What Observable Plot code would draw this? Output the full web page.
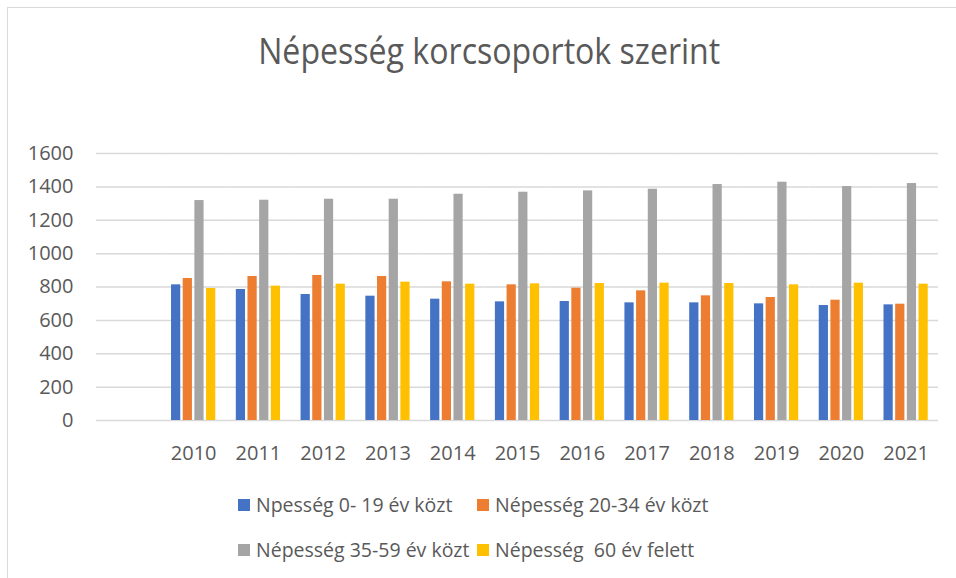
<!DOCTYPE html>
<html>
<head>
<meta charset="utf-8">
<script src="https://cdn.jsdelivr.net/npm/d3@7"></script>
<script src="https://cdn.jsdelivr.net/npm/@observablehq/plot@0.6"></script>
<style>
  html, body { margin: 0; padding: 0; background: #fff; }
  #wrap { position: relative; width: 956px; height: 578px; overflow: hidden; font-family: "Open Sans", sans-serif; color: #595959; }
  #frame { position: absolute; left: 7px; top: 7px; width: 1000px; height: 700px; border: 1.5px solid #d9d9d9; box-sizing: border-box; }
  #title { position: absolute; top: 26px; left: 11px; width: 956px; text-align: center; white-space: nowrap; }
  #title span { display: inline-block; font-size: 36px; font-weight: 400; transform-origin: center; }
  #chart { position: absolute; left: 0; top: 0; }
  .leg { position: absolute; font-size: 19.5px; white-space: pre; line-height: 1; }
  .leg i { position: absolute; left: 0; top: 50%; width: 12px; height: 12px; margin-top: -6px; }
  .leg span { position: absolute; left: 18px; top: 0; white-space: pre; }
</style>
</head>
<body>
<div id="wrap">
  <div id="frame"></div>
  <div id="chart"></div>
  <div id="title"><span>Népesség korcsoportok szerint</span></div>
  <div id="legend"></div>
</div>
<script>
const categories = ["", "2010", "2011", "2012", "2013", "2014", "2015", "2016", "2017", "2018", "2019", "2020", "2021"];
const years = ["2010", "2011", "2012", "2013", "2014", "2015", "2016", "2017", "2018", "2019", "2020", "2021"];
const seriesNames = ["Npesség 0- 19 év közt", "Népesség 20-34 év közt", "Népesség 35-59 év közt", "Népesség  60 év felett"];
const seriesColors = ["#4472C4", "#ED7D31", "#A5A5A5", "#FFC000"];
const age0_19  = [813, 785, 755, 745, 727, 711, 713, 705, 705, 699, 689, 693];
const age20_34 = [851, 863, 869, 863, 831, 813, 793, 777, 747, 737, 721, 697];
const age35_59 = [1318, 1320, 1326, 1326, 1356, 1368, 1376, 1386, 1414, 1428, 1402, 1420];
const age60    = [791, 805, 817, 829, 817, 819, 821, 823, 821, 813, 823, 817];
const yTicks = [0, 200, 400, 600, 800, 1000, 1200, 1400, 1600];

const seriesValues = [age0_19, age20_34, age35_59, age60];
const rows = [];
years.forEach((yr, i) => {
  seriesNames.forEach((s, k) => rows.push({year: yr, series: s, value: seriesValues[k][i]}));
});
// gridlines in every category slot (including the empty first one)
const gridRows = [];
categories.forEach(c => yTicks.forEach(v => gridRows.push({cat: c, v})));

const chart = Plot.plot({
  width: 956,
  height: 480,
  marginTop: 153,
  marginBottom: 60,
  marginLeft: 96,
  marginRight: 18,
  style: {fontFamily: "Open Sans, sans-serif", fontSize: "20px", color: "#595959", background: "transparent", overflow: "visible"},
  fx: {domain: categories, padding: 0, round: false, label: null, tickSize: 0, tickPadding: 25, axis: "bottom"},
  x: {domain: seriesNames, paddingInner: 0.21, paddingOuter: 0.88, round: false, axis: null},
  y: {domain: [0, 1600], ticks: yTicks, tickSize: 0, tickPadding: 23, label: null, tickFormat: d => String(d)},
  color: {domain: seriesNames, range: seriesColors},
  marks: [
    Plot.ruleY(gridRows, {fx: "cat", y: "v", stroke: "#d9d9d9", strokeWidth: 1.5}),
    Plot.barY(rows, {fx: "year", x: "series", y: "value", fill: "series"})
  ]
});
document.getElementById("chart").appendChild(chart);

// Title fit
const tspan = document.querySelector("#title span");
const tw = tspan.getBoundingClientRect().width;
tspan.style.transform = `scaleX(${462 / tw})`;

// Legend
const legendPos = [
  {x: 238, y: 505},
  {x: 477, y: 505},
  {x: 238, y: 550},
  {x: 477, y: 550}
];
const leg = document.getElementById("legend");
seriesNames.forEach((s, k) => {
  const d = document.createElement("div");
  d.className = "leg";
  d.style.left = legendPos[k].x + "px";
  d.style.top = (legendPos[k].y - 12) + "px";
  d.style.height = "24px";
  const sw = document.createElement("i");
  sw.style.background = seriesColors[k];
  const t = document.createElement("span");
  t.textContent = s;
  t.style.lineHeight = "24px";
  d.appendChild(sw);
  d.appendChild(t);
  leg.appendChild(d);
});
</script>
</body>
</html>
